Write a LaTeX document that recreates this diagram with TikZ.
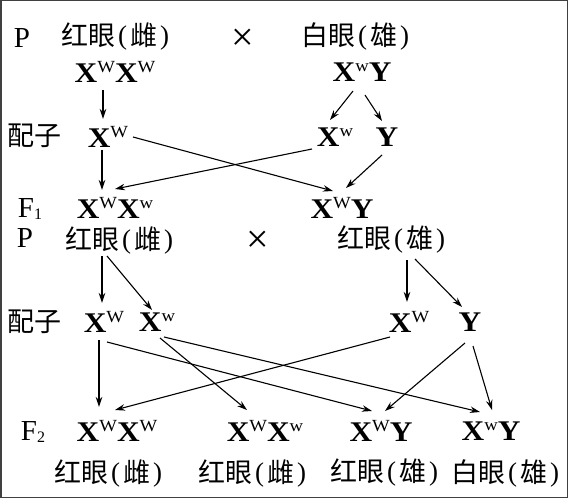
\documentclass[tikz,border=0pt]{standalone}
\usepackage{fontspec}
\setmainfont{Liberation Serif}
\newfontfamily\cjk{Noto Sans CJK SC}
\newfontfamily\genefont{Liberation Serif}[FakeStretch=1.1]
\usetikzlibrary{arrows.meta}
\newcommand\sW{\raisebox{10pt}{\mdseries\fontsize{17}{17}\selectfont W}}
\newcommand\sw{\raisebox{10pt}{\mdseries\fontsize{17}{17}\selectfont w}}
\newcommand\pl{\raisebox{1pt}{\rmfamily (}}
\newcommand\pr{\raisebox{1pt}{\rmfamily )}}
\newcommand\zl[2]{#1\kern3pt\pl\kern3pt#2\kern3pt\pr}
\tikzset{
  gene/.style={inner sep=1pt, font=\genefont\bfseries\fontsize{28.5}{28.5}\selectfont},
  zh/.style={inner sep=1pt, font=\cjk\fontsize{27}{27}\selectfont},
  lab/.style={inner sep=1pt, font=\fontsize{29}{29}\selectfont},
  crs/.style={inner sep=1pt, font=\fontsize{40}{40}\selectfont},
  arr/.style={-{Stealth[length=10pt,width=6.5pt]}, line width=1.1pt},
}
\begin{document}
\begin{tikzpicture}[x=1pt,y=1pt]
\useasboundingbox (0,0) rectangle (570,-500);
\draw[line width=1.4pt, black!75] (0.8,-0.8) rectangle (567.5,-497.5);
% ---- first cross ----
\node[lab] (P1) at (22,-38) {P};
\node[zh] (f1) at (115,-36) {\zl{红眼}{雌}};
\node[crs] (x1) at (243,-40) {×};
\node[zh] (m1) at (355,-36) {\zl{白眼}{雄}};
\node[gene] (pf) at (115,-72) {X\sW X\sW};
\node[gene] (pm) at (362,-72) {X\sw Y};
\node[zh] (gl1) at (35,-136) {配子};
\node[gene] (g1) at (108,-137) {X\sW};
\node[gene] (g2) at (335,-137) {X\sw};
\node[gene] (g3) at (387,-137) {Y};
\node[lab] (F1) at (30,-209) {F\raisebox{-2pt}{\fontsize{16}{16}\selectfont 1}};
\node[gene] (c1) at (115,-208) {X\sW X\sw};
\node[gene] (c2) at (342,-208) {X\sW Y};
\draw[arr] ([shift={(-12,-18)}]pf.center) -- ([shift={(-5,18)}]g1.center);
\draw[arr] ([shift={(-9,-19)}]pm.center) -- ([shift={(-5,17)}]g2.center);
\draw[arr] ([shift={(3,-23)}]pm.center) -- ([shift={(-5,16)}]g3.center);
\draw[arr] ([shift={(-6,-13)}]g1.center) -- ([shift={(-13,18)}]c1.center);
\draw[arr] ([shift={(25,0)}]g1.center) -- ([shift={(-9,17)}]c2.center);
\draw[arr] ([shift={(-23,-12)}]g2.center) -- ([shift={(0,19)}]c1.center);
\draw[arr] ([shift={(-5,-18)}]g3.center) -- ([shift={(4,20)}]c2.center);
% ---- second cross ----
\node[lab] (P2) at (25,-238) {P};
\node[zh] (f2) at (119,-240) {\zl{红眼}{雌}};
\node[crs] (x2) at (258,-242) {×};
\node[zh] (m2) at (391,-240) {\zl{红眼}{雄}};
\node[zh] (gl2) at (35,-322) {配子};
\node[gene] (h1) at (104,-322) {X\sW};
\node[gene] (h2) at (157,-322) {X\sw};
\node[gene] (h3) at (409,-322) {X\sW};
\node[gene] (h4) at (470,-322) {Y};
\node[lab] (F2) at (33,-432) {F\raisebox{-2pt}{\fontsize{16}{16}\selectfont 2}};
\node[gene] (d1) at (117,-431) {X\sW X\sW};
\node[gene] (d2) at (265,-431) {X\sW X\sw};
\node[gene] (d3) at (381,-431) {X\sW Y};
\node[gene] (d4) at (491,-431) {X\sw Y};
\node[zh] (e1) at (108,-473) {\zl{红眼}{雌}};
\node[zh] (e2) at (252,-473) {\zl{红眼}{雌}};
\node[zh] (e3) at (384,-473) {\zl{红眼}{雄}};
\node[zh] (e4) at (505,-473) {\zl{白眼}{雄}};
\draw[arr] ([shift={(-17,-16)}]f2.center) -- ([shift={(-2,19)}]h1.center);
\draw[arr] ([shift={(-12,-16)}]f2.center) -- ([shift={(-5,12)}]h2.center);
\draw[arr] ([shift={(16,-20)}]m2.center) -- ([shift={(-2,20)}]h3.center);
\draw[arr] ([shift={(24,-19)}]m2.center) -- ([shift={(-8,15)}]h4.center);
\draw[arr] ([shift={(-5,-18)}]h1.center) -- ([shift={(-18,24)}]d1.center);
\draw[arr] ([shift={(3,-20)}]h1.center) -- ([shift={(-9,20)}]d3.center);
\draw[arr] ([shift={(3,-16)}]h2.center) -- ([shift={(-18,21)}]d2.center);
\draw[arr] ([shift={(7,-15)}]h2.center) -- ([shift={(-11,19)}]d4.center);
\draw[arr] ([shift={(-19,-15)}]h3.center) -- ([shift={(-2,21)}]d1.center);
\draw[arr] ([shift={(-5,-21)}]h4.center) -- ([shift={(4,20)}]d3.center);
\draw[arr] ([shift={(3,-24)}]h4.center) -- ([shift={(1,21)}]d4.center);
\end{tikzpicture}
\end{document}
